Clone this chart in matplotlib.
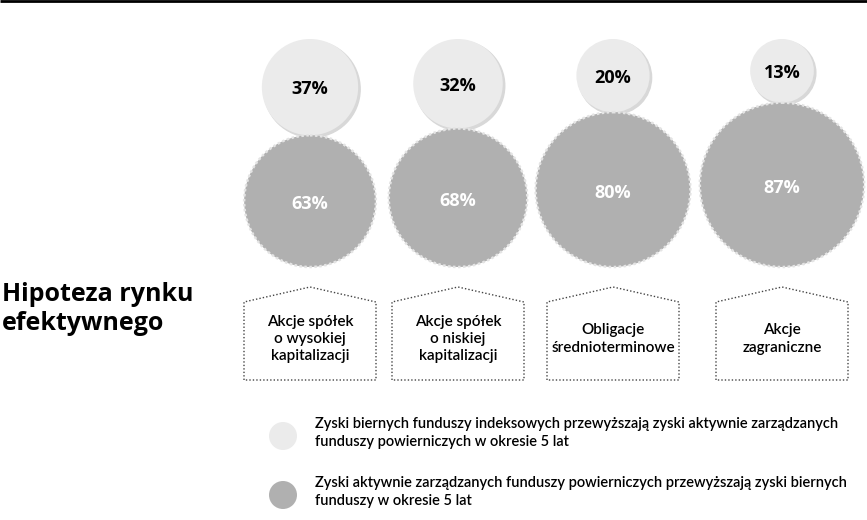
import matplotlib.pyplot as plt
from matplotlib.patches import Circle, Polygon

# data
categories = ["Akcje spółek\no wysokiej\nkapitalizacji",
              "Akcje spółek\no niskiej\nkapitalizacji",
              "Obligacje\nśrednioterminowe",
              "Akcje\nzagraniczne"]
passive = [37, 32, 20, 13]   # passive index funds beat active funds
active = [63, 68, 80, 87]    # active funds beat passive funds
legend_labels = [
    "Zyski biernych funduszy indeksowych przewyższają zyski aktywnie zarządzanych\nfunduszy powierniczych w okresie 5 lat",
    "Zyski aktywnie zarządzanych funduszy powierniczych przewyższają zyski biernych\nfunduszy w okresie 5 lat",
]
title = "Hipoteza rynku\nefektywnego"

light = "#ebebeb"
dark = "#b0b0b0"
narrow = ["Lato", "DejaVu Sans"]

fig = plt.figure(figsize=(8.67, 5.2), dpi=100)
ax = fig.add_axes([0, 0, 1, 1])
ax.set_xlim(0, 867)
ax.set_ylim(520, 0)
ax.set_aspect("equal")
ax.axis("off")

# top rule
ax.plot([0, 867], [1, 1], color="black", lw=2, solid_capstyle="butt")

centers = [310, 458, 613, 782]
base = 267  # bottom of the large circles


def radius(v):
    return 23 + 0.68 * v


for cx, p, a, cat in zip(centers, passive, active, categories):
    R = radius(a)
    r = radius(p)
    cy_big = base - R
    cy_small = base - 2 * R - r
    # soft shadow under light circle
    ax.add_patch(Circle((cx + 2, cy_small + 2), r, color="#d8d8d8", zorder=1))
    ax.add_patch(Circle((cx, cy_small), r, facecolor=light, edgecolor="none", zorder=2))
    ax.add_patch(Circle((cx, cy_big), R, facecolor=dark, edgecolor="#e4e4e4",
                        lw=1.8, ls=(0, (1, 1)), zorder=3))
    ax.text(cx, cy_small + 2, f"{p}%", ha="center", va="center", fontsize=13,
            fontweight="bold", color="black", family="Open Sans", zorder=4)
    ax.text(cx, cy_big + 3, f"{a}%", ha="center", va="center", fontsize=13,
            fontweight="bold", color="white", family="Open Sans", zorder=4)

    # house shaped label box
    w = 132
    x0, x1 = cx - w / 2, cx + w / 2
    pts = [(x0, 380), (x0, 302), (cx, 287), (x1, 302), (x1, 380)]
    ax.add_patch(Polygon(pts, closed=True, facecolor="white", edgecolor="#444444",
                         lw=1, ls=(0, (1, 1.5)), zorder=2))
    ax.text(cx, 339, cat, ha="center", va="center", fontsize=11,
            fontweight="semibold", family=narrow, linespacing=1.3, color="black")

ax.text(2, 309, title, ha="left", va="center", fontsize=18, fontweight="bold",
        family="Open Sans", linespacing=1.2, color="black")

# legend
for (cy, col, lab) in [(436, light, legend_labels[0]), (495, dark, legend_labels[1])]:
    ax.add_patch(Circle((283, cy), 14, facecolor=col, edgecolor="none"))
    ax.text(315, cy - 3, lab, ha="left", va="center", fontsize=10.5,
            fontweight="semibold", family=narrow, linespacing=1.4, color="black")

fig.savefig("out.png", dpi=100)
